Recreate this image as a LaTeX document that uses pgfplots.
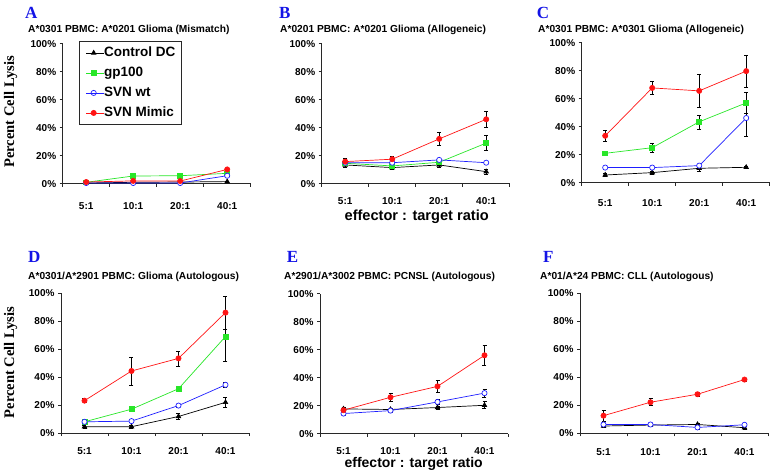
\documentclass[border=0pt]{standalone}
\usepackage{pgfplots}
\pgfplotsset{compat=1.18}
\usepackage{fontspec}
\setmainfont{Liberation Sans}
\newfontfamily\timesfont{Liberation Serif}

\definecolor{cred}{RGB}{255,20,20}
\definecolor{cgreen}{RGB}{40,230,40}
\definecolor{cblue}{RGB}{30,30,255}
\definecolor{axgray}{RGB}{40,40,40}
\definecolor{letterblue}{RGB}{20,20,230}

\newcommand{\letterfont}{\timesfont\bfseries\fontsize{17}{20}\selectfont}
\newcommand{\titlefont}{\bfseries\fontsize{10.2}{12}\selectfont}

\pgfplotsset{
  legend image code/.code={\draw[mark repeat=2,mark phase=2,#1] plot coordinates {(0pt,0pt) (7.5pt,0pt) (15pt,0pt)};\path (0pt,0pt) -- (17.5pt,0pt);},
  panel/.style={
    scale only axis, width=188pt, height=140pt,
    xmin=-0.5, xmax=3.5, ymin=0, ymax=100,
    axis lines=left, axis line style={-, axgray, line width=0.8pt},
    xtick={-0.5,0.5,1.5,2.5,3.5}, xticklabels={5:1,10:1,20:1,40:1},
    x tick label as interval,
    ytick={0,20,40,60,80,100}, yticklabels={0\%,20\%,40\%,60\%,80\%,100\%},
    tick align=outside, major tick length=3pt,
    tick style={axgray, line width=0.7pt},
    ticklabel style={font=\fontsize{10}{12}\selectfont\bfseries},
    /pgf/number format/assume math mode=true,
    clip=false,
    anchor=south west,
  },
  xlab/.style={xticklabel style={anchor=base, inner sep=0pt, yshift=-#1}},
  ctrl/.style={black, line width=0.7pt, mark=triangle*, mark size=2.6pt, mark options={solid, fill=black}, ebar},
  gp/.style={cgreen, line width=0.7pt, mark=square*, mark size=2.4pt, mark options={solid, fill=cgreen}, ebar},
  wt/.style={cblue, line width=0.7pt, mark=*, mark size=2.6pt, mark options={solid, fill=white}, ebar},
  mim/.style={cred, line width=0.7pt, mark=*, mark size=2.6pt, mark options={solid, fill=cred}, ebar},
  ebar/.style={error bars/.cd, y dir=both, y explicit,
    error bar style={black, line width=0.6pt},
    error mark options={rotate=90, black, mark size=2pt, line width=0.6pt}},
}

\begin{document}
\begin{tikzpicture}
% ---------------- Panel A
\begin{axis}[panel, at={(62.7pt,-183.7pt)}, xlab=22.3pt,
  legend style={at={(0.089,1.019)}, anchor=north west, draw=axgray, line width=0.8pt,
    font=\fontsize{13.5}{16}\selectfont\bfseries, row sep=7pt, inner xsep=6pt, inner ysep=5pt,
    nodes={inner sep=0pt, text height=10pt, text depth=3pt}},
  legend cell align=left]
\addplot[ctrl] coordinates {(0,0.5)+-(0,0.4) (1,1.0)+-(0,0.4) (2,1.2)+-(0,0.4) (3,1.5)+-(0,0.5)};
\addlegendentry{Control DC}
\addplot[gp] coordinates {(0,1.0)+-(0,0.4) (1,5.5)+-(0,0.5) (2,5.7)+-(0,0.5) (3,7.4)+-(0,0.6)};
\addlegendentry{gp100}
\addplot[wt] coordinates {(0,0.5)+-(0,0.4) (1,0.5)+-(0,0.4) (2,0.5)+-(0,0.4) (3,5.7)+-(0,0.6)};
\addlegendentry{SVN wt}
\addplot[mim] coordinates {(0,1.2)+-(0,0.4) (1,2.0)+-(0,0.4) (2,1.9)+-(0,0.4) (3,10.2)+-(0,1.0)};
\addlegendentry{SVN Mimic}
\end{axis}
% ---------------- Panel B
\begin{axis}[panel, at={(321.7pt,-183.7pt)}, xlab=18pt]
\addplot[ctrl] coordinates {(0,13.4)+-(0,1.5) (1,11.5)+-(0,1.5) (2,13.4)+-(0,1.5) (3,8.6)+-(0,2)};
\addplot[gp] coordinates {(0,14.6)+-(0,1) (1,12.7)+-(0,1) (2,15.3)+-(0,1) (3,29)+-(0,5.3)};
\addplot[wt] coordinates {(0,15)+-(0,1) (1,15)+-(0,1) (2,17)+-(0,1) (3,15)+-(0,1)};
\addplot[mim] coordinates {(0,15.8)+-(0,2) (1,17.5)+-(0,2) (2,32)+-(0,4.4) (3,46)+-(0,5.4)};
\end{axis}
% ---------------- Panel C
\begin{axis}[panel, at={(581.7pt,-182.7pt)}, xlab=20.6pt]
\addplot[ctrl] coordinates {(0,5.5)+-(0,1) (1,7.2)+-(0,1) (2,10.3)+-(0,2) (3,11)+-(0,1)};
\addplot[gp] coordinates {(0,21)+-(0,1.5) (1,25)+-(0,3.2) (2,43.5)+-(0,5) (3,57)+-(0,7.6)};
\addplot[wt] coordinates {(0,10.8)+-(0,0.8) (1,10.8)+-(0,0.8) (2,12.2)+-(0,1) (3,46.2)+-(0,13)};
\addplot[mim] coordinates {(0,33.5)+-(0,4) (1,67.7)+-(0,4.8) (2,65.6)+-(0,11.7) (3,79.7)+-(0,11.2)};
\end{axis}
% ---------------- Panel D
\begin{axis}[panel, at={(61pt,-433pt)}, xlab=18.5pt]
\addplot[ctrl] coordinates {(0,4.5)+-(0,0.8) (1,4.5)+-(0,0.8) (2,11.8)+-(0,2) (3,21.9)+-(0,3.5)};
\addplot[gp] coordinates {(0,8)+-(0,1) (1,17)+-(0,1.2) (2,31.6)+-(0,2) (3,68.9)+-(0,17.7)};
\addplot[wt] coordinates {(0,8)+-(0,0.8) (1,8.5)+-(0,0.8) (2,19.6)+-(0,1) (3,34.4)+-(0,2)};
\addplot[mim] coordinates {(0,23.1)+-(0,1.5) (1,44.3)+-(0,10) (2,53.3)+-(0,5.4) (3,86)+-(0,11.8)};
\end{axis}
% ---------------- Panel E
\begin{axis}[panel, at={(320pt,-433.7pt)}, xlab=17.3pt]
\addplot[ctrl] coordinates {(0,17.7)+-(0,1.5) (1,17.3)+-(0,1) (2,18.7)+-(0,1) (3,20.3)+-(0,2.5)};
\addplot[wt] coordinates {(0,14.4)+-(0,1) (1,16.5)+-(0,1.5) (2,22.7)+-(0,2) (3,29)+-(0,3)};
\addplot[mim] coordinates {(0,16.8)+-(0,2) (1,26)+-(0,3) (2,33.8)+-(0,4) (3,56)+-(0,7)};
\end{axis}
% ---------------- Panel F
\begin{axis}[panel, at={(580pt,-433.3pt)}, xlab=18.8pt]
\addplot[ctrl] coordinates {(0,5.2)+-(0,1) (1,5.9)+-(0,1) (2,6.3)+-(0,1) (3,4)+-(0,1)};
\addplot[wt] coordinates {(0,6.3)+-(0,1) (1,6.3)+-(0,1) (2,4.2)+-(0,1) (3,6.1)+-(0,1)};
\addplot[mim] coordinates {(0,12.6)+-(0,4) (1,22.2)+-(0,2.5) (2,27.9)+-(0,1.5) (3,38.4)+-(0,1)};
\end{axis}

% ---------------- Letters and titles
\node[anchor=base west, inner sep=0, font=\letterfont, text=letterblue] at (25pt,-18.3pt) {A};
\node[anchor=base west, inner sep=0, font=\letterfont, text=letterblue] at (279pt,-18.3pt) {B};
\node[anchor=base west, inner sep=0, font=\letterfont, text=letterblue] at (536.7pt,-18.3pt) {C};
\node[anchor=base west, inner sep=0, font=\letterfont, text=letterblue] at (28pt,-262.7pt) {D};
\node[anchor=base west, inner sep=0, font=\letterfont, text=letterblue] at (286.7pt,-262.7pt) {E};
\node[anchor=base west, inner sep=0, font=\letterfont, text=letterblue] at (543pt,-262.7pt) {F};

\node[anchor=base west, inner sep=0, font=\titlefont] at (28pt,-32.7pt) {A*0301 PBMC: A*0201 Glioma (Mismatch)};
\node[anchor=base west, inner sep=0, font=\titlefont] at (280pt,-32.7pt) {A*0201 PBMC: A*0201 Glioma (Allogeneic)};
\node[anchor=base west, inner sep=0, font=\titlefont] at (538pt,-32.7pt) {A*0301 PBMC: A*0301 Glioma (Allogeneic)};
\node[anchor=base west, inner sep=0, font=\titlefont] at (28pt,-279pt) {A*0301/A*2901 PBMC: Glioma (Autologous)};
\node[anchor=base west, inner sep=0, font=\titlefont] at (284pt,-279pt) {A*2901/A*3002 PBMC: PCNSL (Autologous)};
\node[anchor=base west, inner sep=0, font=\titlefont] at (540pt,-279pt) {A*01/A*24 PBMC: CLL (Autologous)};

% axis labels
\node[anchor=base, rotate=90, inner sep=0, font=\timesfont\bfseries\fontsize{14.6}{17}\selectfont] at (14pt,-112pt) {Percent Cell Lysis};
\node[anchor=base, rotate=90, inner sep=0, font=\timesfont\bfseries\fontsize{14.6}{17}\selectfont] at (14pt,-362.5pt) {Percent Cell Lysis};
\node[anchor=base, inner sep=0, font=\bfseries\fontsize{14.6}{17}\selectfont] at (416.7pt,-220.5pt) {effector : target ratio};
\node[anchor=base, inner sep=0, font=\bfseries\fontsize{14}{17}\selectfont] at (413.7pt,-467.5pt) {effector : target ratio};

\pgfresetboundingbox
\path[use as bounding box] (0pt,0pt) rectangle (771pt,-472pt);
\end{tikzpicture}
\end{document}
